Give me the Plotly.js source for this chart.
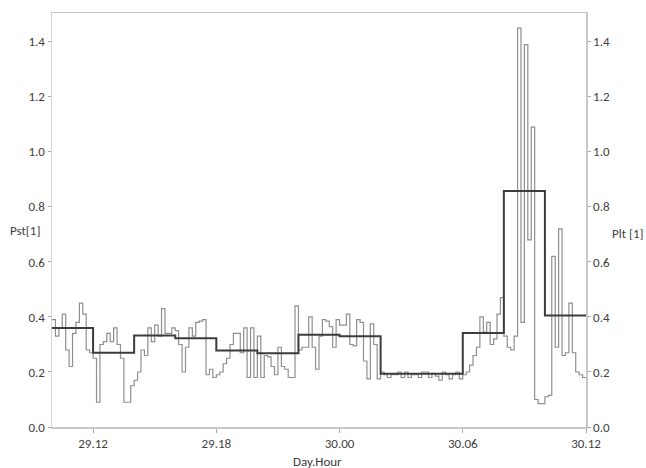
<!DOCTYPE html>
<html>
<head>
<meta charset="utf-8">
<script src="https://cdn.plot.ly/plotly-3.0.1.min.js"></script>
<style>
  html, body { margin: 0; padding: 0; background: #ffffff; }
  #chart { width: 646px; height: 468px; }
</style>
</head>
<body>
<div id="chart"></div>
<script>
// ---- Data ----
// Series start time and step lengths
const startTime = '2013-05-29 10:00';
const endTime = '2013-05-30 12:00';
const pstStepMinutes = 10;
const pltStepMinutes = 120;

// Pst[1], 10-minute short-term flicker values
const pstValues = [
  0.39, 0.33, 0.36, 0.41, 0.28, 0.22, 0.34, 0.38, 0.45, 0.41, 0.28, 0.27, 0.25, 0.09,
  0.30, 0.31, 0.34, 0.31, 0.36, 0.30, 0.25, 0.09, 0.09, 0.15, 0.17, 0.20, 0.28, 0.26,
  0.36, 0.31, 0.37, 0.33, 0.43, 0.34, 0.34, 0.36, 0.35, 0.30, 0.20,
  0.29, 0.36, 0.33, 0.38, 0.385, 0.39, 0.19, 0.21, 0.18, 0.19, 0.20, 0.23, 0.25,
  0.30, 0.34, 0.34, 0.27, 0.36, 0.18, 0.36, 0.18, 0.33, 0.18, 0.26, 0.255, 0.22,
  0.19, 0.29, 0.22, 0.21, 0.18, 0.18, 0.44, 0.28, 0.29, 0.29, 0.40, 0.29, 0.21,
  0.33, 0.39, 0.385, 0.365, 0.29, 0.39, 0.37, 0.37, 0.41, 0.30, 0.295, 0.39, 0.38,
  0.24, 0.175, 0.375, 0.30, 0.175,
  0.20, 0.19, 0.18, 0.19, 0.19, 0.20, 0.18, 0.20, 0.18, 0.19, 0.19, 0.18, 0.20,
  0.20, 0.18, 0.195, 0.185, 0.17, 0.20, 0.19, 0.175, 0.19,
  0.20, 0.175, 0.19, 0.20, 0.225, 0.26, 0.29, 0.40, 0.345, 0.38, 0.30, 0.32, 0.41,
  0.47, 0.33, 0.29, 0.28, 0.33, 1.45, 0.38, 1.39, 0.68, 1.09, 0.10, 0.085, 0.085,
  0.11, 0.115, 0.62, 0.29, 0.72, 0.26, 0.27, 0.45, 0.27, 0.20, 0.19, 0.18
];

// Plt[1], 2-hour long-term flicker values
const pltValues = [0.36, 0.27, 0.333, 0.323, 0.278, 0.268, 0.335, 0.33, 0.194, 0.194, 0.342, 0.858, 0.405];

// Axis texts
const xTitle = 'Day.Hour';
const yTitleLeft = 'Pst[1]';
const yTitleRight = 'Plt [1]';

// ---- Helpers ----
function pad(n) { return (n < 10 ? '0' : '') + n; }
function timeAt(startStr, minutes) {
  const p = startStr.split(/[- :]/).map(Number);
  const d = new Date(Date.UTC(p[0], p[1] - 1, p[2], p[3], p[4]) + minutes * 60000);
  return d.getUTCFullYear() + '-' + pad(d.getUTCMonth() + 1) + '-' + pad(d.getUTCDate()) +
    ' ' + pad(d.getUTCHours()) + ':' + pad(d.getUTCMinutes());
}
function stepSeries(values, stepMin) {
  const xs = [], ys = [];
  values.forEach((v, i) => { xs.push(timeAt(startTime, i * stepMin)); ys.push(v); });
  xs.push(timeAt(startTime, values.length * stepMin));
  ys.push(values[values.length - 1]);
  return { xs, ys };
}

const pst = stepSeries(pstValues, pstStepMinutes);
const plt = stepSeries(pltValues, pltStepMinutes);

const fontFam = 'Carlito, Lato, "Open Sans", sans-serif';
const textColor = '#404040';

const traces = [
  {
    x: pst.xs, y: pst.ys, type: 'scatter', mode: 'lines',
    line: { shape: 'hv', color: '#8f8f8f', width: 1.2 },
    name: 'Pst', hoverinfo: 'skip'
  },
  {
    x: plt.xs, y: plt.ys, type: 'scatter', mode: 'lines', yaxis: 'y2',
    line: { shape: 'hv', color: '#3c3c3c', width: 2 },
    name: 'Plt', hoverinfo: 'skip'
  }
];

const yRange = [0, 1.505];

const layout = {
  width: 646, height: 468,
  margin: { l: 52, r: 60, t: 13, b: 41, pad: 0 },
  paper_bgcolor: '#ffffff', plot_bgcolor: '#ffffff',
  showlegend: false,
  font: { family: fontFam, size: 13, color: textColor },
  xaxis: {
    type: 'date',
    range: [startTime, endTime],
    tick0: '2013-05-29 00:00',
    dtick: 6 * 3600 * 1000,
    tickformat: '%d.%H',
    showgrid: false, zeroline: false,
    showline: true, linecolor: '#c8c8c8', linewidth: 1.5, mirror: true,
    ticks: 'outside', ticklen: 4, tickcolor: '#a8a8a8', tickwidth: 1,
    tickfont: { family: fontFam, size: 13, color: textColor }
  },
  yaxis: {
    range: yRange, dtick: 0.2, tick0: 0, tickformat: '.1f',
    showgrid: false, zeroline: false,
    showline: true, linecolor: '#d4d4d4', linewidth: 1.5,
    ticks: 'outside', ticklen: 3, tickcolor: '#a8a8a8',
    tickfont: { family: fontFam, size: 13, color: textColor }
  },
  yaxis2: {
    range: yRange, dtick: 0.2, tick0: 0, tickformat: '.1f',
    overlaying: 'y', side: 'right',
    showgrid: false, zeroline: false,
    showline: true, linecolor: '#c8c8c8', linewidth: 1.5,
    ticks: 'outside', ticklen: 3, tickcolor: '#a8a8a8',
    tickfont: { family: fontFam, size: 13, color: textColor }
  },
  annotations: [
    { text: yTitleLeft, xref: 'paper', yref: 'paper', x: -0.083, y: 0.475,
      xanchor: 'left', yanchor: 'middle', showarrow: false,
      font: { family: fontFam, size: 13, color: textColor } },
    { text: yTitleRight, xref: 'paper', yref: 'paper', x: 1.045, y: 0.468,
      xanchor: 'left', yanchor: 'middle', showarrow: false,
      font: { family: fontFam, size: 13, color: textColor } },
    { text: xTitle, xref: 'paper', yref: 'paper', x: 0.498, y: -0.083,
      xanchor: 'center', yanchor: 'middle', showarrow: false,
      font: { family: fontFam, size: 13, color: textColor } }
  ]
};

Plotly.newPlot('chart', traces, layout, { staticPlot: true, displayModeBar: false });
</script>
</body>
</html>
